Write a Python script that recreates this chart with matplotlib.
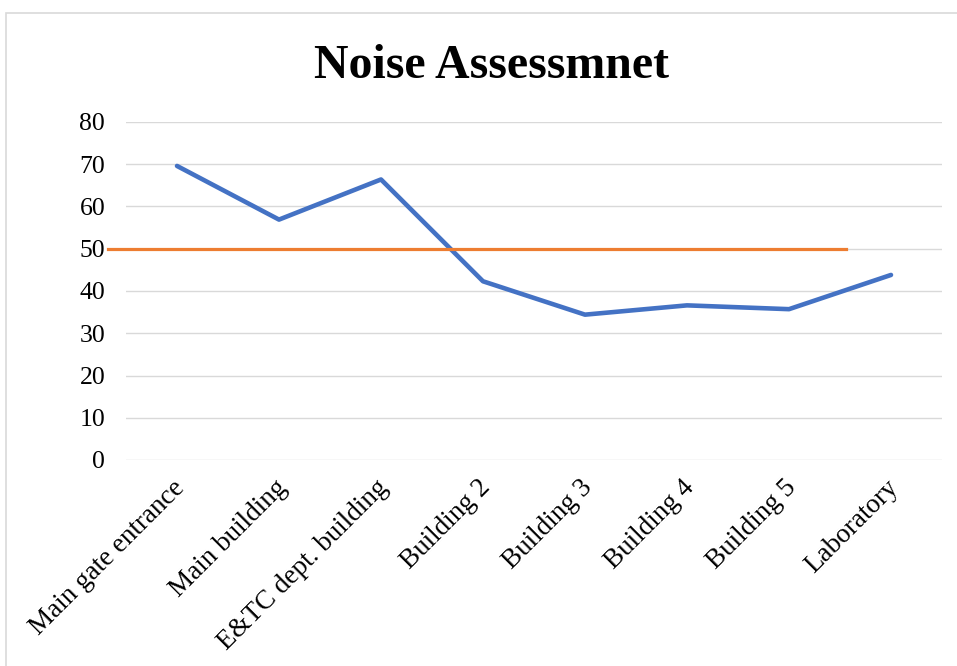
import matplotlib.pyplot as plt
import matplotlib.patches as patches
import matplotlib.transforms as mtransforms

categories = ["Main gate entrance", "Main building", "E&TC dept. building",
              "Building 2", "Building 3", "Building 4", "Building 5", "Laboratory"]
noise = [69.6, 56.9, 66.4, 42.3, 34.4, 36.6, 35.7, 43.8]
limit_x = [-0.68, 6.56]
limit_y = [50, 50]
yticks = [0, 10, 20, 30, 40, 50, 60, 70, 80]

plt.rcParams['font.family'] = ['Liberation Serif', 'DejaVu Serif']

fig = plt.figure(figsize=(9.57, 6.66), dpi=100)
fig.patches.append(patches.Rectangle((6/957, -0.1), 1.2, 1 - 13/666 + 0.1,
                                     transform=fig.transFigure, fill=False,
                                     edgecolor='#D9D9D9', linewidth=1.2))
ax = fig.add_axes([126/957, 1 - 460/666, 816/957, 338/666])

x = list(range(len(categories)))
ax.plot(x, noise, color='#4472C4', linewidth=3.3, solid_capstyle='round', zorder=3)
ax.plot(limit_x, limit_y, color='#ED7D31', linewidth=2.3, clip_on=False, zorder=3)

ax.set_xlim(-0.5, len(categories) - 0.5)
ax.set_ylim(0, 80)
ax.set_yticks(yticks)
ax.set_xticks(x)
ax.set_xticklabels(categories, rotation=45, ha='right', rotation_mode='anchor')
ax.tick_params(axis='both', length=0)
ax.tick_params(axis='y', pad=15, labelsize=18.5)
ax.tick_params(axis='x', pad=11, labelsize=19.5)
shift = mtransforms.ScaledTranslation(-5/100, 0, fig.dpi_scale_trans)
for lbl in ax.get_xticklabels():
    lbl.set_transform(lbl.get_transform() + shift)
ax.grid(axis='y', color='#D9D9D9', linewidth=1)
ax.set_axisbelow(True)
for s in ax.spines.values():
    s.set_visible(False)

fig.text(491/957, 1 - 66/666, "Noise Assessmnet", ha='center', va='center',
         fontsize=34.5, fontweight='bold')

fig.savefig("out.png", dpi=100)
